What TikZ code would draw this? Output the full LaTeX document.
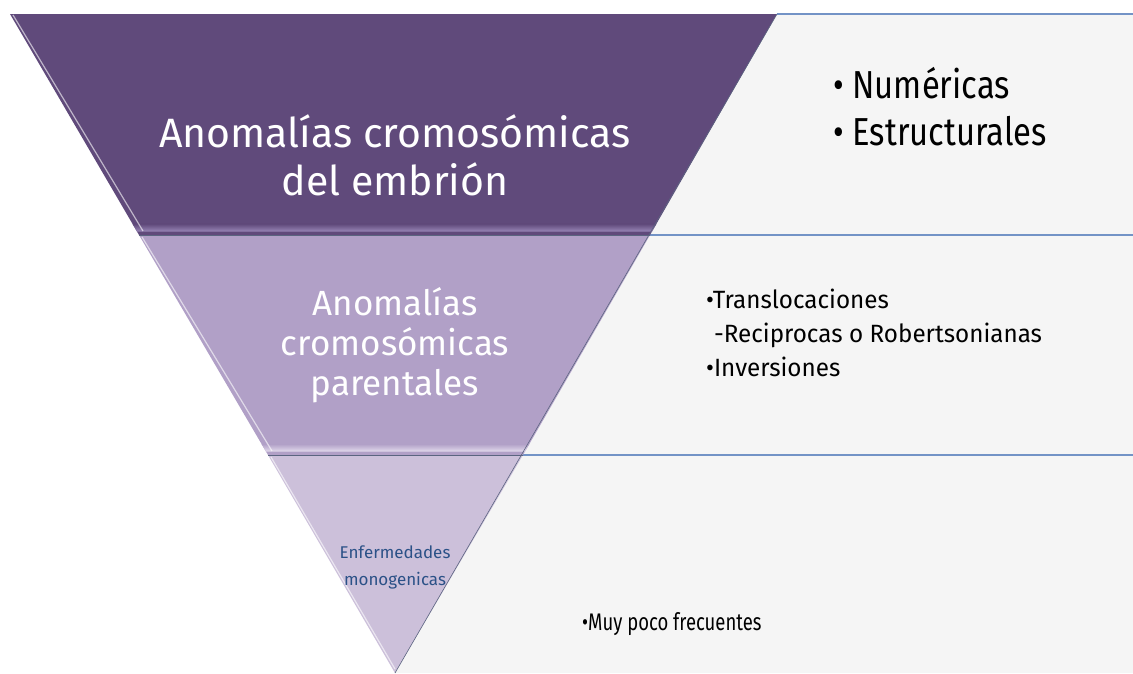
\documentclass[tikz,border=0pt]{standalone}
\usepackage{fontspec}
\setmainfont{Fira Sans}
\newfontfamily\narrowA[FakeStretch=0.84]{Fira Sans}
\newfontfamily\narrowB[FakeStretch=0.97]{Fira Sans}
\newfontfamily\narrowC[FakeStretch=0.77]{Fira Sans}
\usetikzlibrary{calc}
\definecolor{bandA}{HTML}{604A7B}
\definecolor{bevelA}{HTML}{9A87B8}
\definecolor{bandB}{HTML}{B1A0C7}
\definecolor{bevelB}{HTML}{E4DCEE}
\definecolor{bandC}{HTML}{CCC0DA}
\definecolor{panelgray}{HTML}{F5F5F5}
\definecolor{panelblue}{HTML}{7393C6}
\definecolor{edgegray}{HTML}{5B6580}
\definecolor{textblue}{HTML}{2B5187}
\tikzset{
    band text/.style = {
        text = white,
        align = center,
        inner sep = 0pt,
        anchor = base,
        },
    list text/.style = {
        text = black,
        align = left,
        inner sep = 0pt,
        anchor = base west,
        },
    panel/.style = {
        fill = panelgray,
        },
    panel line/.style = {
        draw = panelblue,
        line width = 1.6pt,
        },
    edge line/.style = {
        draw = edgegray,
        line width = 0.6pt,
        },
    shine/.style = {
        draw = white,
        opacity = 0.6,
        line width = 1.2pt,
    },
}

\begin{document}
\begin{tikzpicture}[x=1pt, y=-1pt]
            \useasboundingbox (0,0) rectangle (1133,673);

            % corners of the funnel
            \coordinate (t1) at (10,14);
            \coordinate (t2) at (777,14);
            \coordinate (l1) at (139,235);
            \coordinate (r1) at (650,235);
            \coordinate (l2) at (268,455);
            \coordinate (r2) at (523,455);
            \coordinate (tip) at (395,673);
            \coordinate (e0) at (1133,14);
            \coordinate (e1) at (1133,235);
            \coordinate (e2) at (1133,455);
            \coordinate (e3) at (1133,673);

            % Panels
            \fill[panel] (t2) -- (e0) -- (e1) -- (r1) -- cycle;
            \fill[panel] (r1) -- (e1) -- (e2) -- (r2) -- cycle;
            \fill[panel] (r2) -- (e2) -- (e3) -- (tip) -- cycle;
            \draw[panel line] (t2) -- (e0);
            \draw[panel line] (r1) -- (e1);
            \draw[panel line] (r2) -- (e2);

            % Band 1
            \fill[bandA] (t1) -- (t2) -- (r1) -- (l1) -- cycle;
            \shade[top color=bandA, bottom color=bevelA]
                ($(t1)!0.95!(l1)$) -- ($(t2)!0.95!(r1)$) -- ($(t2)!0.985!(r1)$) -- ($(t1)!0.985!(l1)$) -- cycle;
            \draw[shine] ($(t1)+(3,1)$) -- ($(l1)+(4,-4)$);

            % Band 2
            \fill[bandB] (l1) -- (r1) -- (r2) -- (l2) -- cycle;
            \shade[top color=bandB, bottom color=bevelB]
                ($(l1)!0.95!(l2)$) -- ($(r1)!0.95!(r2)$) -- ($(r1)!0.985!(r2)$) -- ($(l1)!0.985!(l2)$) -- cycle;
            \draw[shine] ($(l1)+(3,2)$) -- ($(l2)+(4,-4)$);

            % Band 3
            \fill[bandC] (l2) -- (r2) -- (tip) -- cycle;
            \draw[shine] ($(l2)+(3,2)$) -- ($(tip)+(0,-4)$);

            \draw[edge line] (l1) -- (r1);
            \draw[edge line] (l2) -- (r2);
            \draw[edge line] (t2) -- (tip);

            % Texts in the funnel (base = last line)
            \node[band text, font=\fontsize{41}{48}\selectfont] (embrion) at (395,195) {Anomalías cromosómicas\\del embrión};
            \node[band text, font=\fontsize{35}{40}\selectfont] (parental) at (395,395) {Anomalías\\cromosómicas\\parentales};
            \node[band text, text=textblue, font=\fontsize{17}{27}\selectfont] (mono) at (395,585) {Enfermedades\\monogenicas};

            % Texts in the panels
            \node[list text, font=\narrowA\fontsize{39}{47}\selectfont] (tipos) at (833,145) {• Numéricas\\• Estructurales};
            \node[list text, font=\narrowB\fontsize{25}{34}\selectfont] (reord) at (706,376) {•Translocaciones\\\phantom{•}-Reciprocas o Robertsonianas\\•Inversiones};
            \node[list text, font=\narrowC\fontsize{24}{30}\selectfont] (freq) at (582,630) {•Muy poco frecuentes};
\end{tikzpicture}
\end{document}
